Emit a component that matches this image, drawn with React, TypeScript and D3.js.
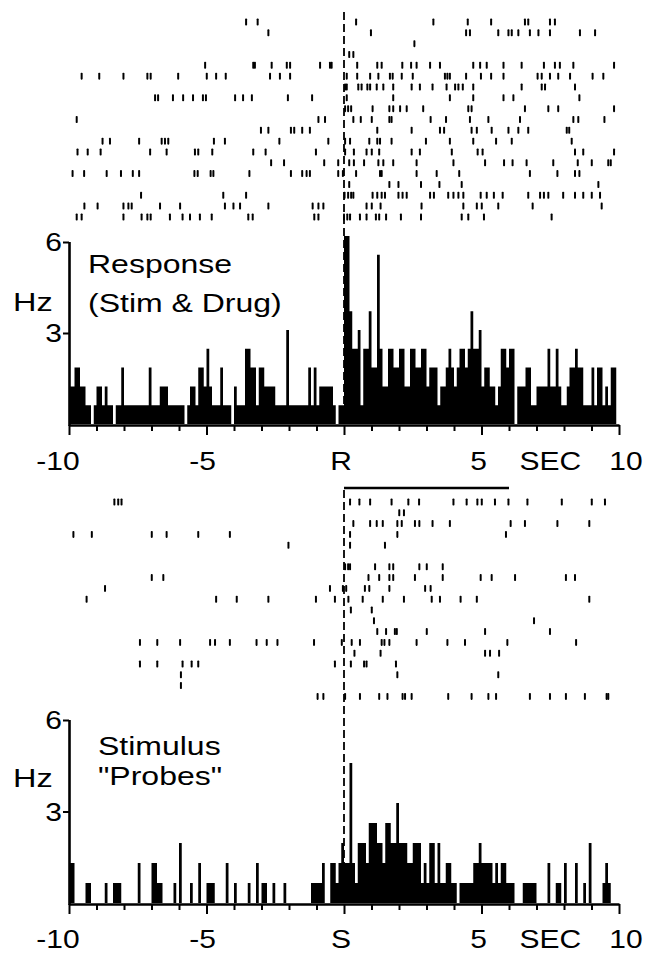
import * as d3 from "d3";
import { useEffect, useRef } from "react";

// spike times (s) per trial row, top raster (response: stim & drug)
const topRaster: number[][] = [
  [-3.56, -3.14, 0.44, 3.25, 4.5, 5.35, 6.58, 6.7, 7.49, 7.67],
  [-2.75, 0.98, 4.44, 4.58, 5.61, 5.98, 6.1, 6.34, 6.76, 7.07, 7.49, 8.58, 9.13],
  [2.56],
  [0.19, 0.34],
  [-5.05, -3.3, -3.24, -2.63, -2.08, -1.96, -0.87, -0.51, -0.45, 0.48, 1.21, 1.37, 2.12, 2.44, 2.64, 3.13, 3.49, 4.7, 4.95, 5.19, 5.8, 6.46, 7.27, 7.67, 7.85, 8.34, 9.82],
  [-9.54, -8.9, -8.02, -7.15, -7.03, -6.03, -4.99, -4.65, -4.3, -2.69, -2.33, -1.96, 0.1, 0.48, 0.95, 1.25, 1.67, 1.77, 2.1, 2.5, 3.67, 3.76, 3.85, 4.44, 4.98, 5.35, 5.8, 7.04, 7.19, 7.49, 7.79, 8.22, 9.04, 9.43],
  [0.04, 0.1, 0.52, 0.64, 0.85, 0.95, 1.19, 1.43, 1.79, 2.46, 2.76, 3.22, 3.73, 4.04, 4.16, 4.32, 4.7, 6.46, 7.19, 7.31, 8.4],
  [-6.87, -6.76, -6.22, -5.85, -5.49, -5.13, -5.02, -3.96, -3.67, -3.35, -2.04, -1.16, 0.1, 1.79, 3.85, 4.7, 5.8, 6.16, 8.56],
  [0.04, 0.15, 0.26, 1.04, 1.65, 1.79, 2.04, 2.28, 2.88, 4.52, 4.64, 6.58, 7.43, 7.79, 9.82],
  [-9.72, -0.93, -0.69, 0.34, 0.61, 1.01, 1.65, 1.73, 3.15, 3.71, 4.58, 5.25, 6.4, 8.34, 8.52, 9.47],
  [-3.02, -2.75, -1.93, -1.81, -1.52, -1.24, 1.21, 2.46, 3.49, 3.64, 4.64, 4.83, 5.37, 5.98, 6.34, 6.7, 8.1, 8.19],
  [-8.78, -8.51, -7.45, -6.63, -6.51, -6.39, -4.73, -4.33, -2.35, -0.57, 0.04, 0.22, 0.92, 1.21, 1.31, 1.73, 2.98, 3.85, 4.7, 5.53, 6.1, 8.28],
  [-9.69, -9.32, -8.85, -7.05, -6.45, -5.42, -5.3, -4.79, -3.3, -2.85, -1.02, 0.04, 0.36, 0.82, 1.01, 1.28, 2.46, 2.76, 3.92, 4.86, 5.04, 8.4, 8.7, 9.82],
  [-2.65, -2.18, -0.72, -0.21, 0.19, 0.36, 0.73, 1.25, 1.43, 1.79, 2.64, 3.98, 5.13, 5.82, 6.13, 6.64, 7.61, 8.5, 9.01, 9.61, 9.7],
  [-9.87, -9.45, -8.63, -8.11, -7.68, -7.45, -5.44, -5.32, -4.85, -4.75, -3.44, -1.93, -1.52, -1.36, -1.24, -0.21, -0.04, 0.44, 1.31, 1.37, 2.64, 3.37, 4.19, 6.76, 7.76, 8.4, 8.56],
  [0.19, 1.65, 1.98, 2.8, 3.47, 4.28, 9.25],
  [-7.38, -4.39, -3.56, 0.02, 0.15, 0.26, 0.34, 1.04, 1.21, 1.37, 1.49, 1.98, 2.13, 2.28, 3.13, 3.27, 3.79, 3.98, 4.16, 4.34, 4.97, 5.19, 5.45, 5.77, 6.7, 7.13, 7.27, 7.43, 7.97, 8.4, 8.7, 9.01, 9.31],
  [-9.44, -8.96, -8.02, -7.84, -7.72, -6.69, -5.96, -4.33, -4.02, -3.78, -2.75, -1.14, -0.93, -0.75, 0.82, 1.01, 1.33, 2.82, 4.34, 4.83, 5.01, 5.61, 6.86, 9.37],
  [-9.72, -9.54, -8.02, -7.36, -7.15, -7.03, -6.33, -5.87, -5.6, -5.24, -4.81, -3.48, -3.32, -1.08, -0.93, 0.0, 0.12, 0.22, 0.58, 0.82, 1.16, 1.28, 1.53, 2.07, 2.8, 4.28, 4.52, 5.09, 7.55],
];

// spike times (s) per trial row, bottom raster (stimulus probes)
const bottomRaster: number[][] = [
  [-8.35, -8.21, -8.09, 0.22, 0.56, 0.95, 1.73, 2.34, 2.73, 3.98, 4.46, 4.85, 5.01, 5.49, 5.98, 6.67, 7.92, 9.01, 9.49],
  [2.01, 2.18],
  [0.34, 0.95, 1.19, 1.41, 1.94, 2.1, 2.58, 2.74, 3.22, 3.85, 6.06, 6.58, 7.76, 8.92],
  [-9.84, -9.17, -6.99, -6.45, -5.3, -4.15, 0.22, 1.94, 5.89],
  [-2.02, 0.22, 1.49],
  [],
  [0.04, 0.15, 0.22, 1.13, 1.65, 1.79, 2.74, 3.01, 3.59],
  [-6.99, -6.57, 0.89, 1.28, 1.65, 1.79, 2.58, 3.59, 4.97, 5.37, 6.22, 8.07, 8.4],
  [-8.69, -0.51, -0.04, 0.08, 0.76, 0.92, 1.65, 2.95, 3.15],
  [-9.36, -4.65, -3.9, -2.75, -1.02, -0.33, 0.16, 0.68, 1.41, 2.18, 3.19, 3.49, 4.24, 4.83, 8.92],
  [0.25, 1.01],
  [1.09, 6.91],
  [1.21, 1.53, 1.85, 1.92, 3.01, 5.13, 7.49],
  [-7.42, -6.79, -5.96, -4.87, -4.69, -4.15, -3.18, -2.81, -2.42, -1.09, -0.08, 0.28, 0.58, 1.37, 1.47, 1.65, 2.64, 3.76, 4.4, 5.94, 8.44],
  [0.38, 1.33, 5.13, 5.31, 5.64],
  [-7.42, -6.79, -5.87, -5.54, -5.3, -0.33, 0.25, 0.73, 0.82, 1.89],
  [-5.93, 1.94, 5.61],
  [-5.93],
  [-0.96, -0.75, 0.04, 0.58, 1.28, 1.58, 2.13, 2.22, 2.46, 3.79, 4.64, 5.25, 5.53, 6.76, 7.49, 8.07, 8.76, 9.55, 9.61],
];

// spike counts per 100 ms bin from -10 s to +10 s
const topCounts: number[] = [
  2, 2, 3, 3, 2, 2, 1, 1, 0, 1, 2, 2, 1, 2, 1, 1, 0, 1, 1, 3,
  1, 1, 1, 1, 1, 1, 1, 1, 1, 3, 1, 1, 1, 2, 2, 2, 1, 1, 1, 1,
  1, 1, 0, 1, 2, 2, 1, 3, 3, 2, 4, 2, 1, 1, 1, 3, 1, 1, 1, 0,
  2, 1, 1, 1, 4, 4, 3, 3, 1, 3, 3, 2, 2, 2, 2, 1, 1, 1, 1, 5,
  1, 1, 1, 1, 1, 1, 1, 3, 1, 3, 1, 2, 2, 2, 2, 2, 1, 0, 1, 1,
  10, 10, 6, 4, 4, 5, 1, 4, 4, 6, 3, 3, 9, 4, 2, 2, 4, 4, 3, 3,
  4, 4, 2, 2, 4, 4, 3, 3, 4, 4, 2, 3, 3, 3, 1, 2, 2, 3, 4, 3,
  2, 3, 4, 4, 3, 4, 6, 4, 4, 5, 2, 3, 3, 2, 2, 1, 2, 4, 4, 3,
  4, 4, 0, 2, 2, 2, 3, 3, 1, 1, 2, 2, 2, 2, 4, 2, 2, 4, 2, 1,
  1, 2, 3, 3, 4, 3, 3, 1, 1, 1, 3, 1, 3, 3, 1, 2, 1, 3, 3, 0,
];

const bottomCounts: number[] = [
  2, 2, 0, 0, 0, 0, 1, 1, 0, 0, 0, 0, 0, 1, 0, 0, 1, 1, 1, 0,
  0, 0, 0, 0, 0, 2, 0, 0, 0, 0, 2, 2, 1, 1, 0, 0, 0, 0, 1, 0,
  3, 0, 0, 0, 1, 0, 0, 2, 0, 0, 1, 1, 1, 0, 0, 0, 0, 2, 0, 0,
  1, 0, 0, 0, 0, 1, 0, 0, 2, 0, 1, 1, 0, 0, 1, 0, 0, 0, 1, 0,
  0, 0, 0, 0, 0, 0, 0, 0, 1, 1, 1, 1, 2, 0, 0, 2, 2, 1, 2, 3,
  2, 2, 7, 2, 1, 3, 3, 3, 2, 4, 4, 4, 3, 3, 2, 4, 4, 3, 3, 5,
  3, 3, 3, 2, 2, 3, 3, 3, 1, 2, 1, 3, 3, 1, 3, 1, 1, 2, 2, 1,
  1, 0, 1, 1, 1, 1, 1, 2, 2, 3, 2, 2, 2, 2, 1, 2, 1, 2, 2, 1,
  1, 1, 0, 0, 0, 1, 1, 1, 1, 1, 0, 0, 0, 0, 2, 0, 0, 1, 1, 0,
  2, 0, 0, 0, 2, 0, 0, 1, 0, 3, 0, 0, 0, 0, 1, 2, 1, 0, 0, 0,
];

const xTickValues = d3.range(-10, 11);
const yTickValues = [3, 6];
const topXLabels: [number, string][] = [[-10, "-10"], [-5, "-5"], [0, "R"], [5, "5"], [7.5, "SEC"], [10, "10"]];
const bottomXLabels: [number, string][] = [[-10, "-10"], [-5, "-5"], [0, "S"], [5, "5"], [7.5, "SEC"], [10, "10"]];
const topTitle = ["Response", "(Stim & Drug)"];
const bottomTitle = ["Stimulus", "\"Probes\""];
const drugWindow = [0, 6];

const FONT = "'Liberation Sans', Arial, Helvetica, sans-serif";
const FONT_SIZE = 25;
const BIN = 0.1;

type Panel = {
  raster: number[][];
  counts: number[];
  rowTop: number;      // y of first raster row
  rowStep: number;
  dashTop: number;
  base: number;        // y of 0 Hz
  top6: number;        // y of 6 Hz
  hzPerCount: number;
  title: string[];
  titleX: number;
  titleY: number[];
  hzY: number;
  xLabels: [number, string][];
  labelY: number;
};

const App = () => {
  const ref = useRef<SVGSVGElement | null>(null);

  useEffect(() => {
    if (!ref.current) return;
    const svg = d3.select(ref.current);
    svg.selectAll("*").remove();

    const x = d3.scaleLinear().domain([-10, 10]).range([69, 619]);

    const addText = (g: any, str: string, tx: number, ty: number, anchor = "start", sx = 1.2) =>
      g.append("text")
        .attr("transform", `translate(${tx},${ty}) scale(${sx},1)`)
        .attr("text-anchor", anchor)
        .attr("font-family", FONT)
        .attr("font-size", FONT_SIZE)
        .attr("fill", "#000")
        .text(str);

    const labelDx = [-11, -4, -3, -3, 0, 7];

    const drawPanel = (p: Panel) => {
      const g = svg.append("g");
      const y = d3.scaleLinear().domain([0, 6]).range([p.base, p.top6]);

      // histogram as a stepped area
      const pts: [number, number][] = p.counts.map((c, i) => [-10 + i * BIN, c * p.hzPerCount]);
      pts.push([10, 0]);
      const area = d3.area<[number, number]>()
        .x(d => x(d[0]))
        .y0(p.base)
        .y1(d => y(d[1]))
        .curve(d3.curveStepAfter);
      g.append("path").attr("d", area(pts)).attr("fill", "#000");

      // raster ticks
      p.raster.forEach((row, r) => {
        const ry = p.rowTop + r * p.rowStep;
        g.selectAll(null)
          .data(row)
          .join("rect")
          .attr("x", d => x(d) - 1)
          .attr("y", ry - 3.5)
          .attr("width", 2)
          .attr("height", 7)
          .attr("rx", 0.8)
          .attr("fill", "#000");
      });

      // onset marker
      g.append("line")
        .attr("x1", x(0)).attr("x2", x(0))
        .attr("y1", p.dashTop).attr("y2", p.base)
        .attr("stroke", "#000")
        .attr("stroke-width", 1.8)
        .attr("stroke-dasharray", "8,4");

      // x axis
      const xAxis = g.append("g")
        .attr("transform", `translate(0,${p.base + 1})`)
        .call(d3.axisBottom(x).tickValues(xTickValues).tickSize(6).tickSizeOuter(0).tickFormat(() => ""));
      xAxis.select(".domain").attr("stroke-width", 2.6);
      xAxis.selectAll(".tick line").attr("stroke-width", 2)
        .attr("y2", (d: any) => (d % 5 === 0 ? 10 : 6));

      // y axis
      const yAxis = g.append("g")
        .attr("transform", `translate(${x(-10)},0)`)
        .call(d3.axisLeft(y).tickValues(yTickValues).tickSize(6).tickSizeOuter(0).tickFormat(() => ""));
      yAxis.select(".domain").attr("stroke-width", 2.6)
        .attr("d", `M0.5,${p.base + 2}V${p.top6}`);
      yAxis.selectAll(".tick line").attr("stroke-width", 2);

      yTickValues.forEach(v => addText(g, String(v), 62, y(v) + 9, "end"));
      addText(g, "Hz", 13, p.hzY, "start", 1.3);
      p.title.forEach((s, i) => addText(g, s, p.titleX, p.titleY[i], "start", 1.28));
      p.xLabels.forEach(([v, s], i) => addText(g, s, x(v) + labelDx[i], p.labelY, "middle"));
    };

    drawPanel({
      raster: topRaster, counts: topCounts, rowTop: 22, rowStep: 10.83, dashTop: 12,
      base: 424, top6: 242, hzPerCount: 0.62,
      title: topTitle, titleX: 88, titleY: [273, 312], hzY: 311,
      xLabels: topXLabels, labelY: 470,
    });

    drawPanel({
      raster: bottomRaster, counts: bottomCounts, rowTop: 502, rowStep: 10.8, dashTop: 490,
      base: 903, top6: 720, hzPerCount: 0.656,
      title: bottomTitle, titleX: 98, titleY: [755, 785], hzY: 787,
      xLabels: bottomXLabels, labelY: 948,
    });

    // drug application bar under the top axis
    svg.append("line")
      .attr("x1", x(drugWindow[0])).attr("x2", x(drugWindow[1]))
      .attr("y1", 488).attr("y2", 488)
      .attr("stroke", "#000").attr("stroke-width", 2.6);
  }, []);

  return (
    <svg ref={ref} width={649} height={953}
      style={{ position: "absolute", left: 0, top: 0, background: "#fff" }} />
  );
};

export default App;
